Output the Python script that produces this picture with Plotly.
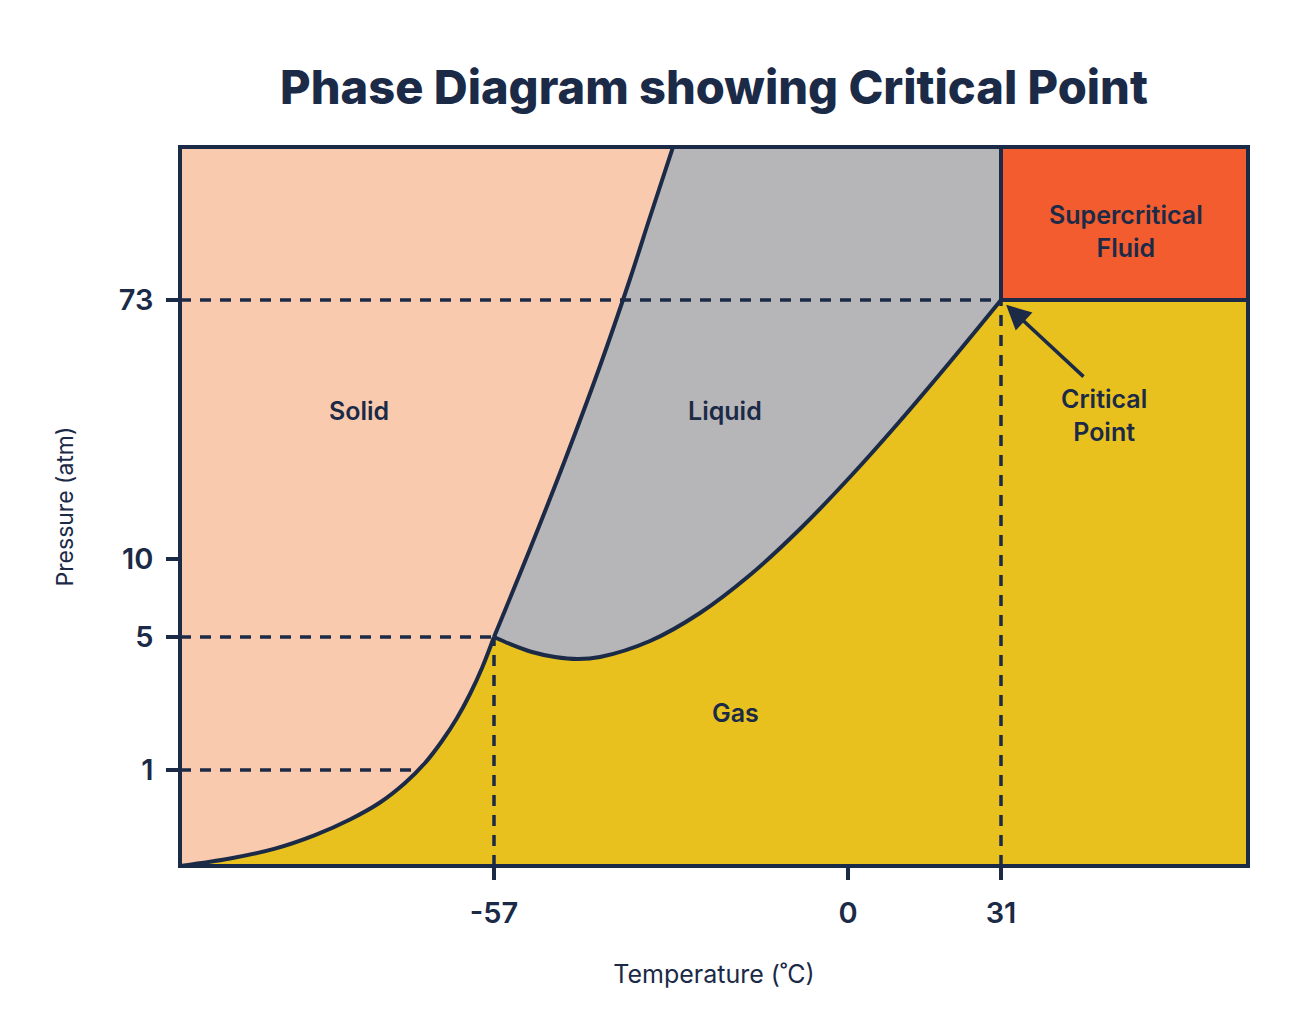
import plotly.graph_objects as go

# ---- schematic axis (positions along the drawn axes) ----
T_labels = ["-57", "0", "31"]
T_pos = [314, 668, 821]
P_labels = ["1", "5", "10", "73"]
P_pos = [96, 229, 307, 566]
T_max = 1068
P_max = 719

# ---- phase boundaries (in axis position units) ----
sub_T = [0, 50, 95, 135, 170, 200, 225, 245, 262, 277, 290, 302, 314]
sub_P = [0, 7.5, 17.4, 30.9, 46.5, 63.5, 83, 103, 125, 148, 172, 198, 229]
p1_T = 237   # where the 1 atm guide meets the sublimation curve

melt_T = [314, 350, 385, 420, 450, 470, 493]
melt_P = [229, 317, 406, 500, 587, 649, 719]

vap_T = [314, 330, 352, 375, 398, 420, 470, 520, 570, 620, 670, 720, 770, 821]
vap_P = [229, 222, 214, 209, 207, 209, 225, 253, 291, 337, 389, 445, 504, 566]

# region labels
region_names = ["Solid", "Liquid", "Gas", "Supercritical<br>Fluid"]
region_T = [179, 545, 555, 946]
region_P = [455, 455, 153, 635]

NAVY = "#1b2a47"
C_SOLID = "#facaae"
C_LIQ = "#b6b6b8"
C_GAS = "#e8c11e"
C_SC = "#f25c2e"
FONT = "Inter"

triple_T, triple_P = sub_T[-1], sub_P[-1]
crit_T, crit_P = vap_T[-1], vap_P[-1]

fig = go.Figure()

def fill(xs, ys, color):
    fig.add_trace(go.Scatter(x=xs, y=ys, mode="lines", fill="toself",
                             fillcolor=color, line=dict(width=0, color=color),
                             hoverinfo="skip", showlegend=False))

# Gas
fill([0] + sub_T + vap_T[1:] + [T_max, T_max, 0],
     [0] + sub_P + vap_P[1:] + [crit_P, 0, 0], C_GAS)
# Solid
fill([0, 0] + sub_T + melt_T[1:] + [0],
     [P_max, 0] + sub_P + melt_P[1:] + [P_max], C_SOLID)
# Liquid
fill(melt_T + [crit_T, crit_T] + vap_T[::-1],
     melt_P + [P_max, crit_P] + vap_P[::-1], C_LIQ)
# Supercritical
fill([crit_T, T_max, T_max, crit_T, crit_T],
     [crit_P, crit_P, P_max, P_max, crit_P], C_SC)

# dashed guide lines
def dashed(xs, ys):
    fig.add_trace(go.Scatter(x=xs, y=ys, mode="lines",
                             line=dict(color=NAVY, width=3.5, dash="11px,9px"),
                             hoverinfo="skip", showlegend=False))

dashed([0, crit_T], [crit_P, crit_P])
dashed([0, triple_T], [triple_P, triple_P])
dashed([0, p1_T], [P_pos[0], P_pos[0]])
dashed([triple_T, triple_T], [0, triple_P])
dashed([crit_T, crit_T], [0, crit_P])

# solid boundaries
def solid(xs, ys, shape="spline"):
    fig.add_trace(go.Scatter(x=xs, y=ys, mode="lines",
                             line=dict(color=NAVY, width=4, shape=shape),
                             hoverinfo="skip", showlegend=False))

solid(sub_T, sub_P)
solid(melt_T, melt_P)
solid(vap_T, vap_P)
solid([crit_T, crit_T], [crit_P, P_max], "linear")
solid([crit_T, T_max], [crit_P, crit_P], "linear")

# labels
for name, tx, py in zip(region_names, region_T, region_P):
    fig.add_annotation(x=tx, y=py, text=name, showarrow=False,
                       font=dict(family=FONT, size=25, color=NAVY, weight=600))

fig.add_annotation(x=crit_T, y=crit_P, text="", showarrow=True,
                   arrowhead=2, arrowsize=1.4, arrowwidth=3.5, arrowcolor=NAVY,
                   standoff=7, ax=84, ay=78)
fig.add_annotation(x=924, y=451, text="Critical<br>Point", showarrow=False,
                   font=dict(family=FONT, size=25, color=NAVY, weight=600))

axis_common = dict(showline=True, linecolor=NAVY, linewidth=3.5, mirror=True,
                   ticks="outside", ticklen=12, tickwidth=3.5, tickcolor=NAVY,
                   showgrid=False, zeroline=False,
                   tickfont=dict(family=FONT, size=29, color=NAVY, weight=600))

fig.update_xaxes(range=[2, T_max - 2], tickvals=T_pos, ticktext=T_labels,
                 ticklabelstandoff=8,
                 title=dict(text="Temperature (˚C)", standoff=38,
                            font=dict(family=FONT, size=25, color=NAVY)),
                 **axis_common)
fig.update_yaxes(range=[2, P_max - 2], tickvals=P_pos, ticktext=P_labels,
                 ticklabelstandoff=7,
                 title=dict(text="Pressure (atm)", standoff=40,
                            font=dict(family=FONT, size=23, color=NAVY)),
                 **axis_common)

fig.update_layout(
    width=1300, height=1035,
    margin=dict(l=174, r=62, t=141, b=179),
    paper_bgcolor="white", plot_bgcolor="white",
    title=dict(text="Phase Diagram showing Critical Point", x=0.5,
               xref="paper", xanchor="center", y=0.923, yanchor="middle",
               font=dict(family=FONT, size=47, color=NAVY, weight=800)),
    showlegend=False,
)

fig.write_html("out.html")
